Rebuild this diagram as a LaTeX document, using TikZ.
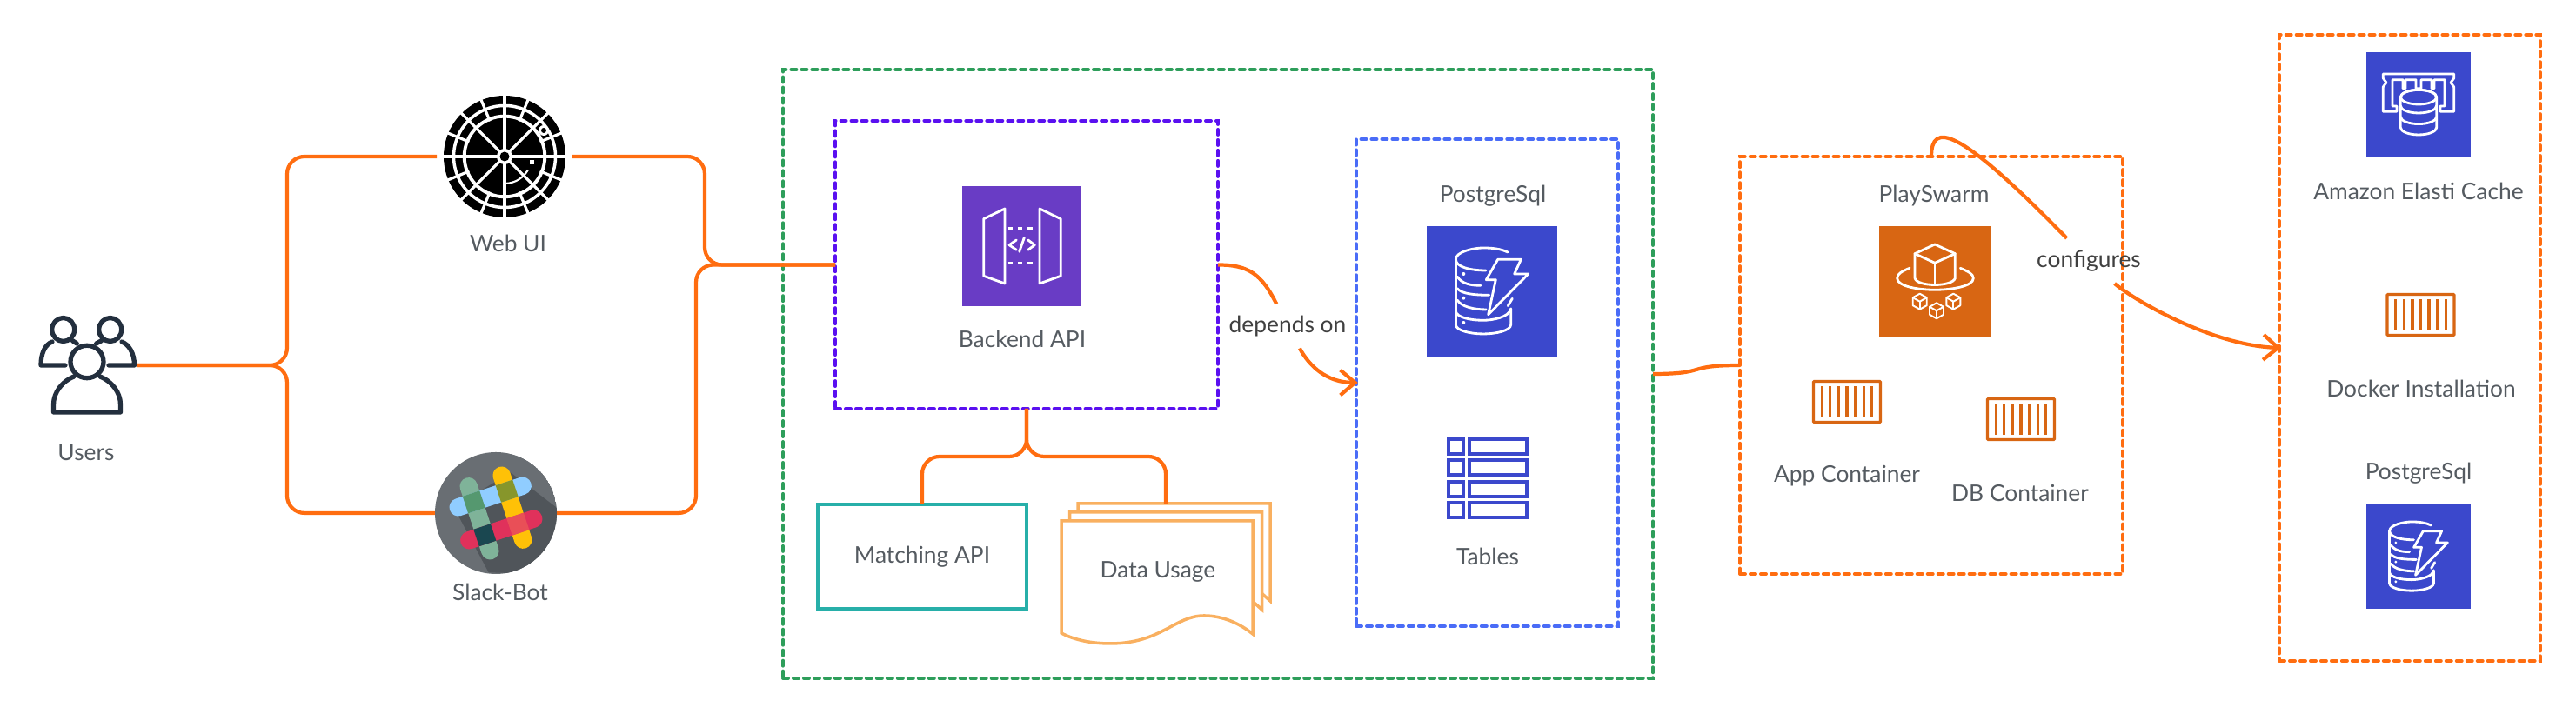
\documentclass[tikz,border=0pt]{standalone}
\usepackage{fontspec}
\setmainfont{Lato}
\usetikzlibrary{arrows.meta}

\definecolor{wireorange}{HTML}{FF6D10}
\definecolor{captiongrey}{HTML}{555B61}
\definecolor{zonegreen}{HTML}{2E9E5B}
\definecolor{zonepurple}{HTML}{5A10F0}
\definecolor{zoneblue}{HTML}{4A6CF7}
\definecolor{matchteal}{HTML}{27AFA9}
\definecolor{docorange}{HTML}{F9B060}
\definecolor{tileblue}{HTML}{3B48CC}
\definecolor{tilepurple}{HTML}{693CC5}
\definecolor{tileorange}{HTML}{D86613}
\definecolor{usersink}{HTML}{232F3E}
\definecolor{slackback}{HTML}{696E73}
\definecolor{slackshade}{HTML}{50555A}
\definecolor{slackgreen}{HTML}{7FB399}
\definecolor{slackyellow}{HTML}{FFC107}
\definecolor{slackblue}{HTML}{90CDFF}
\definecolor{slackred}{HTML}{E0315B}
\definecolor{slackgb}{HTML}{55986F}
\definecolor{slackyb}{HTML}{87962B}
\definecolor{slackgr}{HTML}{1A4750}
\definecolor{slackyr}{HTML}{E94F57}

\tikzset{
    wire/.style={draw=wireorange, line width=1.2pt},
    elbow/.style={wire, rounded corners=2mm},
    openarrow/.style={-{Straight Barb[length=4.8pt, width=8.2pt]}, shorten >=-.5pt},
    zone/.style={draw=#1, line width=1.14pt, line cap=round, dash pattern=on 1.7pt off 1.71pt, inner sep=0pt, outer sep=0pt},
    tile/.style={fill=#1, inner sep=0pt, outer sep=0pt},
    spot/.style={inner sep=0pt, outer sep=0pt},
    caption/.style={font=\fontsize{7.5}{9}\selectfont, text=captiongrey, inner sep=0pt, outer sep=0pt},
    wirelabel/.style={font=\fontsize{7.5}{9}\selectfont, text=black!75, inner sep=0pt, outer sep=0pt},
    glyph/.style={draw=white, line width=.8pt, line join=round, line cap=round},
}

\begin{document}
\begin{tikzpicture}
    \useasboundingbox (0,0) rectangle (29.61,8.21);

    % boxes
    \node[zone=zonegreen, minimum width=10cm, minimum height=7cm] (platform) at (14,3.91) {};
    \node[zone=zonepurple, minimum width=4.4cm, minimum height=3.31cm] (backend) at (11.8,5.165) {};
    \node[zone=zoneblue, minimum width=3.01cm, minimum height=5.6cm] (database) at (17.095,3.81) {};
    \node[zone=wireorange, minimum width=4.4cm, minimum height=4.8cm] (swarm) at (22.2,4.01) {};
    \node[zone=wireorange, minimum width=3cm, minimum height=7.2cm] (hosts) at (27.7,4.21) {};
    \node[draw=matchteal, line width=1pt, inner sep=0pt, outer sep=0pt, minimum width=2.4cm, minimum height=1.2cm, font=\fontsize{7.5}{9}\selectfont, text=captiongrey] (matching) at (10.6,1.81) {Matching API};

    % data usage pages
    \foreach \x/\t/\b in {12.39/2.42/1.30, 12.295/2.32/1.20} {
            \draw[docorange, line width=1pt] (\x,\t-.1) -- (\x,\t) -- (\x+2.21,\t) -- (\x+2.21,\b) -- (\x+2.11,\b+.09);
        }
    \draw[docorange, line width=1pt, fill=white] (12.2,2.22) -- (14.4,2.22) -- (14.4,.92)
        .. controls (14.2,1.08) and (14.0,1.13) .. (13.84,1.13)
        .. controls (13.5,1.13) and (13.35,.81) .. (12.76,.81)
        .. controls (12.55,.81) and (12.35,.85) .. (12.2,.93) -- cycle;
    \node[spot, minimum width=2.4cm, minimum height=1.62cm] (usage) at (13.4,1.61) {};
    \node[caption] (usagetext) at (13.31,1.64) {Data Usage};

    % spots the wires end on
    \node[spot, minimum width=1.16cm, minimum height=1cm] (users) at (1,4.01) {};
    \node[spot, circle, minimum size=1.56cm] (web) at (5.8,6.41) {};
    \node[spot, circle, minimum size=1.4cm] (slack) at (5.7,2.31) {};
    \coordinate (trunkup) at (3.3,5);
    \coordinate (trunkdown) at (3.3,3);
    \coordinate (mergeup) at (8.1,5.8);
    \coordinate (mergedown) at (8,4);
    \coordinate (splitleft) at (11.2,2.96);
    \coordinate (splitright) at (12.6,2.96);

    % wires
    \draw[elbow] (users.east) -| (trunkup) |- (web.west);
    \draw[elbow] (users.east) -| (trunkdown) |- (slack.west);
    \draw[elbow] (web.east) -| (mergeup) |- (backend.west);
    \draw[elbow] (slack.east) -| (mergedown) |- (backend.west);
    \draw[elbow] (backend.south) |- (splitleft) -| (matching.north);
    \draw[elbow] (backend.south) |- (splitright) -| (usage.north);
    \draw[wire] (platform.east) .. controls (19.65,3.91) and (19.35,4.01) .. (swarm.west);

    \node[wirelabel, minimum height=.51cm] (depends) at (14.8,4.46) {depends on};
    \draw[wire] (backend.east) .. controls (14.35,5.165) and (14.5,5.06) .. (depends);
    \draw[wire, openarrow] (depends) .. controls (15.05,4) and (15.25,3.81) .. (database.west);

    \node[wirelabel, minimum height=.52cm] (configures) at (24.01,5.21) {configures};
    \draw[wire] (swarm.north) .. controls (22.2,6.81) and (22.5,6.76) .. (configures);
    \draw[wire, openarrow] (configures) .. controls (24.5,4.78) and (25.4,4.24) .. (hosts.west);

    % users
    \begin{scope}[usersink, line width=1.5pt, line join=round, line cap=round]
        \draw (.727,4.42) ellipse (.13 and .135);
        \draw (1.267,4.42) ellipse (.13 and .135);
        \draw (.6,4.28) .. controls (.52,4.25) and (.47,4.15) .. (.47,4.01) -- (.75,4.01);
        \draw (1.4,4.28) .. controls (1.48,4.25) and (1.545,4.15) .. (1.545,4.01) -- (1.25,4.01);
        \draw (.833,4.293) -- (.883,4.26);
        \draw (1.167,4.293) -- (1.107,4.26);
        \draw (1,4.05) ellipse (.19 and .187);
        \draw (.85,3.88) .. controls (.72,3.83) and (.615,3.7) .. (.615,3.56) -- (.615,3.47) -- (1.385,3.47) -- (1.385,3.56) .. controls (1.385,3.7) and (1.28,3.83) .. (1.15,3.88);
    \end{scope}
    \node[caption] (userstext) at (.99,3.005) {Users};

    % web ui
    \begin{scope}[shift={(web.center)}]
        \fill[black] (0,0) circle (.7);
        \draw[white, line width=1pt] (0,0) circle (.585);
        \draw[white, line width=1.1pt] (0,0) circle (.463);
        \foreach \a in {0,22.5,...,337.5} {
                \draw[white, line width=.9pt] (\a:.44) -- (\a:.72);
            }
        \foreach \a in {0,45,...,315} {
                \draw[white, line width=.9pt] (0,0) -- (\a:.46);
            }
        \fill[white] (0,0) circle (.09);
        \fill[black] (0,0) circle (.055);
        \fill[white] (.292,-.088) rectangle (.342,-.038);
        \draw[white, line width=.6pt] (-30:.31) arc[start angle=-30, end angle=-87, radius=.31];
        \fill[white] (.45,.3) circle (.06);
        \fill[black] (.45,.3) circle (.03);
    \end{scope}
    \node[caption] (webtext) at (5.84,5.41) {Web UI};

    % slack bot
    \begin{scope}
        \clip (slack.center) circle (.7);
        \fill[slackback] (slack.center) circle (.7);
        \fill[slackshade] (5.217,2.377) -- (5.867,2.777) -- (6.393,2.377) -- (6.6,1.6) -- (5.617,1.627) -- cycle;
    \end{scope}
    \begin{scope}[shift={(slack.center)}, rotate=18.4, line width=5.8pt, line cap=round]
        \draw[slackgreen] (-.2,-.39) -- (-.2,.39);
        \draw[slackyellow] (.2,-.39) -- (.2,.39);
        \draw[slackblue] (-.39,.2) -- (.39,.2);
        \draw[slackred] (-.39,-.2) -- (.39,-.2);
        \fill[slackgb] (-.303,.097) rectangle (-.097,.303);
        \fill[slackyb] (.097,.097) rectangle (.303,.303);
        \fill[slackgr] (-.303,-.303) rectangle (-.097,-.097);
        \fill[slackyr] (.097,-.303) rectangle (.303,-.097);
    \end{scope}
    \node[caption] (slacktext) at (5.75,1.4) {Slack-Bot};

    % backend api
    \node[tile=tilepurple, minimum width=1.37cm, minimum height=1.38cm] (backendicon) at (11.745,5.38) {};
    \begin{scope}[shift={(backendicon.center)}]
        \draw[glyph] (-.438,.313) -- (-.195,.43) -- (-.195,-.43) -- (-.438,-.343) -- cycle;
        \draw[glyph] (.205,.43) -- (.448,.313) -- (.448,-.343) -- (.205,-.43) -- cycle;
        \foreach \y in {.207,-.197} {
                \draw[white, line width=.7pt, dash pattern=on 1.6pt off 1.6pt] (-.16,\y) -- (.17,\y);
            }
        \draw[glyph] (-.062,.07) -- (-.145,.013) -- (-.062,-.043);
        \draw[glyph] (.072,.07) -- (.148,.013) -- (.072,-.043);
        \draw[glyph] (.028,.097) -- (-.028,-.063);
    \end{scope}
    \node[caption] (backendtext) at (11.75,4.31) {Backend API};

    % database tiles
    \node[tile=tileblue, minimum size=1.5cm] (databaseicon) at (17.15,4.86) {};
    \node[tile=tileblue, minimum size=1.2cm] (hostdbicon) at (27.8,1.81) {};
    \foreach \n/\s in {databaseicon/1, hostdbicon/.8} {
            \begin{scope}[shift={(\n.center)}, scale=\s]
                \draw[glyph] (-.417,.367) .. controls (-.417,.46) and (-.2,.5) .. (-.1,.5) .. controls (0,.5) and (.1,.49) .. (.18,.45);
                \draw[glyph] (-.417,.367) .. controls (-.417,.28) and (-.25,.24) .. (-.07,.24);
                \draw[glyph] (-.417,.367) -- (-.417,-.383);
                \draw[glyph] (-.4,.17) .. controls (-.35,.09) and (-.25,.067) .. (-.13,.067);
                \draw[glyph] (-.4,.033) .. controls (-.35,-.03) and (-.2,-.043) .. (-.033,-.043);
                \draw[glyph] (-.4,-.1) .. controls (-.35,-.18) and (-.2,-.21) .. (-.067,-.21);
                \draw[glyph] (-.417,-.233) .. controls (-.4,-.3) and (-.25,-.333) .. (-.1,-.333) .. controls (0,-.333) and (.2,-.3) .. (.217,-.2);
                \draw[glyph] (-.417,-.383) .. controls (-.417,-.45) and (-.25,-.49) .. (-.1,-.49) .. controls (.05,-.49) and (.217,-.45) .. (.217,-.383) -- (.217,-.2);
                \draw[glyph] (.067,.367) -- (.333,.367) -- (.257,.2) -- (.417,.2) -- (-.043,-.267) -- (.043,.133) -- (-.067,.133) -- cycle;
                \draw[glyph] (.233,-.083) -- (.183,-.167);
                \foreach \y in {.2,-.077,-.36} {
                        \fill[white] (-.327,\y) circle (.02);
                    }
            \end{scope}
        }
    \node[caption] (databasetext) at (17.16,5.96) {PostgreSql};
    \node[caption] (hostdbtext) at (27.8,2.765) {PostgreSql};

    % tables
    \foreach \r in {0,1,2,3} {
            \draw[tileblue, line width=1.14pt] (16.65,3.16-.244*\r) rectangle (16.82,2.99-.244*\r);
            \draw[tileblue, line width=1.14pt] (16.89,3.16-.244*\r) rectangle (17.55,2.99-.244*\r);
        }
    \node[caption] (tablestext) at (17.1,1.81) {Tables};

    % playswarm
    \node[caption] (swarmtext) at (22.23,5.96) {PlaySwarm};
    \node[tile=tileorange, minimum size=1.28cm] (swarmicon) at (22.24,4.97) {};
    \begin{scope}[shift={(swarmicon.center)}]
        \draw[glyph] (-.23,.04) -- (-.23,.323) -- (0,.43) -- (.233,.323) -- (.233,.04) .. controls (.2,-.06) and (-.2,-.06) .. (-.23,.04);
        \draw[glyph] (-.23,.323) -- (0,.217) -- (.233,.323);
        \draw[glyph] (0,.217) -- (0,-.03);
        \draw[glyph] (-.29,.157) .. controls (-.38,.12) and (-.433,.09) .. (-.433,.04) .. controls (-.433,-.05) and (-.2,-.093) .. (0,-.093) .. controls (.2,-.093) and (.443,-.05) .. (.443,.04) .. controls (.443,.09) and (.38,.12) .. (.293,.157);
        \foreach \x/\y in {-.173/-.227, .02/-.333, .213/-.227} {
                \begin{scope}[shift={(\x,\y)}]
                    \draw[white, line width=.55pt, line join=round] (-.08,.045) -- (0,.09) -- (.08,.045) -- (.08,-.045) -- (0,-.09) -- (-.08,-.045) -- cycle;
                    \draw[white, line width=.55pt, line join=round] (-.08,.045) -- (0,0) -- (.08,.045);
                    \draw[white, line width=.55pt] (0,0) -- (0,-.09);
                \end{scope}
            }
    \end{scope}

    % containers
    \foreach \n/\x/\y in {appbox/21.23/3.59, dbbox/23.23/3.39, dockerbox/27.825/4.59} {
            \node[draw=tileorange, fill=white, line width=.95pt, rounded corners=.3pt, inner sep=0pt, outer sep=0pt, minimum width=.77cm, minimum height=.47cm] (\n) at (\x,\y) {};
            \foreach \b in {-3,...,3} {
                    \draw[tileorange, line width=.95pt] ([xshift=\b*.096cm, yshift=-.18cm]\n.center) -- ([xshift=\b*.096cm, yshift=.18cm]\n.center);
                }
        }
    \node[caption] (apptext) at (21.23,2.74) {App Container};
    \node[caption] (dbtext) at (23.22,2.54) {DB Container};
    \node[caption] (dockertext) at (27.83,3.74) {Docker Installation};

    % elasti cache
    \node[tile=tileblue, minimum size=1.2cm] (cacheicon) at (27.8,7.01) {};
    \begin{scope}[shift={(cacheicon.center)}]
        \draw[glyph] (-.407,.35) -- (.407,.35) -- (.407,.3) -- (.37,.25) -- (.407,.2) -- (.407,-.083) -- (.25,-.083) -- (.25,-.02) -- (.3,-.02) -- (.3,.283) -- (.18,.283) -- (.18,.183) -- (.15,.183) -- (.15,.283) -- (.03,.283) -- (.03,.183) -- (-.03,.183) -- (-.03,.283) -- (-.15,.283) -- (-.15,.183) -- (-.18,.183) -- (-.18,.283) -- (-.3,.283) -- (-.3,-.02) -- (-.25,-.02) -- (-.25,-.083) -- (-.407,-.083) -- (-.407,.2) -- (-.37,.25) -- (-.407,.3) -- cycle;
        \draw[glyph, fill=tileblue] (-.207,.083) -- (-.207,-.267) arc[start angle=180, end angle=360, x radius=.207, y radius=.083] -- (.207,.083) arc[start angle=0, end angle=180, x radius=.207, y radius=.083];
        \draw[glyph] (0,.083) ellipse (.207 and .083);
        \draw[glyph] (-.207,-.017) arc[start angle=180, end angle=360, x radius=.207, y radius=.083];
        \draw[glyph] (-.207,-.143) arc[start angle=180, end angle=360, x radius=.207, y radius=.083];
    \end{scope}
    \node[caption] (cachetext) at (27.8,6.01) {Amazon Elasti Cache};
\end{tikzpicture}
\end{document}
